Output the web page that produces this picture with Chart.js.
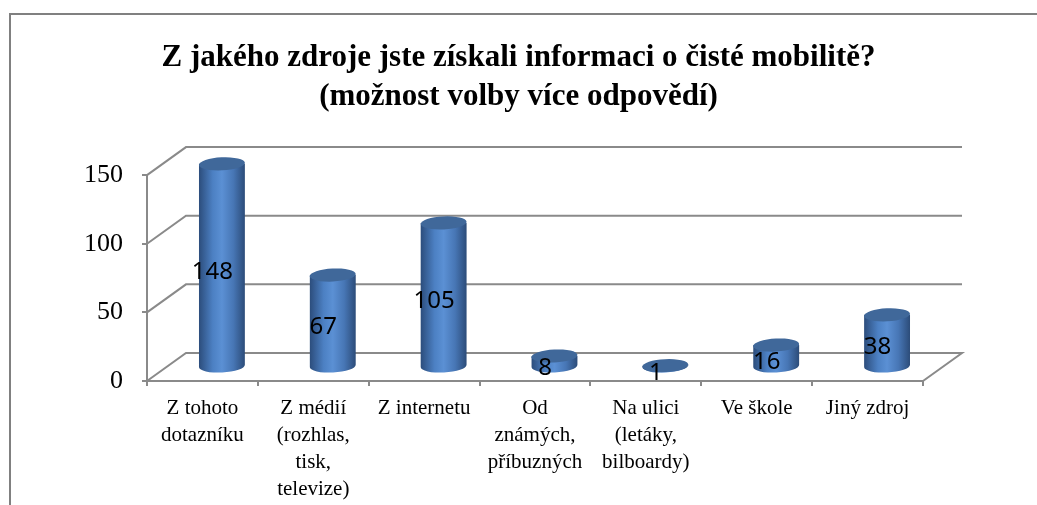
<!DOCTYPE html>
<html>
<head>
<meta charset="utf-8">
<script src="https://cdn.jsdelivr.net/npm/chart.js@4.4.0/dist/chart.umd.min.js"></script>
<style>
  html, body { margin: 0; padding: 0; background: #fff; }
  #wrap { position: relative; width: 1037px; height: 505px; }
</style>
</head>
<body>
<div id="wrap"><canvas id="graf" width="1037" height="505"></canvas></div>
<script>
// data
var kategorie = [
  ['Z tohoto', 'dotazníku'],
  ['Z médií', '(rozhlas,', 'tisk,', 'televize)'],
  'Z internetu',
  ['Od', 'známých,', 'příbuzných'],
  ['Na ulici', '(letáky,', 'bilboardy)'],
  'Ve škole',
  'Jiný zdroj'
];
var pocty = [148, 67, 105, 8, 1, 16, 38];
var osaY = [0, 50, 100, 150];
var nadpis = ['Z jakého zdroje jste získali informaci o čisté mobilitě?', '(možnost volby více odpovědí)'];

// 3d look, excel style
var HLOUBKA_X = 39, HLOUBKA_Y = -28;
var SEDA = '#8a8a8a';
var SERIF = '"Liberation Serif", "Times New Roman", serif';

var ramecek = {
  id: 'ramecek',
  beforeDraw: function(chart) {
    var ctx = chart.ctx;
    ctx.save();
    ctx.fillStyle = '#fff';
    ctx.fillRect(0, 0, chart.width, chart.height);
    ctx.strokeStyle = '#808080';
    ctx.lineWidth = 2;
    ctx.beginPath();
    ctx.moveTo(10, chart.height);
    ctx.lineTo(10, 14);
    ctx.lineTo(chart.width, 14);
    ctx.stroke();
    ctx.restore();
  }
};

var steny = {
  id: 'steny',
  beforeDatasetsDraw: function(chart) {
    var ctx = chart.ctx, a = chart.chartArea, y = chart.scales.y;
    ctx.save();
    ctx.strokeStyle = SEDA;
    ctx.lineWidth = 2;
    osaY.forEach(function(v) {
      var py = y.getPixelForValue(v);
      ctx.beginPath();
      ctx.moveTo(a.left, py);
      ctx.lineTo(a.left + HLOUBKA_X, py + HLOUBKA_Y);
      ctx.lineTo(a.right + HLOUBKA_X, py + HLOUBKA_Y);
      if (v === 0) ctx.lineTo(a.right, py);
      ctx.stroke();
    });
    ctx.restore();
  },
  afterDatasetsDraw: function(chart) {
    var ctx = chart.ctx;
    var meta = chart.getDatasetMeta(0);
    ctx.save();
    meta.data.forEach(function(bar, i) {
      var cx = bar.x + HLOUBKA_X / 2;
      var top = bar.y + HLOUBKA_Y / 2;
      var bottom = bar.base + HLOUBKA_Y / 2;
      var rx = bar.width / 2, ry = 6.5, rot = -0.05;

      var g = ctx.createLinearGradient(cx - rx, 0, cx + rx, 0);
      g.addColorStop(0, '#2c4d7c');
      g.addColorStop(0.3, '#4c80c3');
      g.addColorStop(0.5, '#5b90d4');
      g.addColorStop(0.75, '#4776b5');
      g.addColorStop(1, '#2c4c79');

      ctx.fillStyle = g;
      ctx.beginPath();
      ctx.moveTo(cx - rx, top);
      ctx.lineTo(cx - rx, bottom);
      ctx.ellipse(cx, bottom, rx, ry, rot, Math.PI, 0, true);
      ctx.lineTo(cx + rx, top);
      ctx.closePath();
      ctx.fill();

      ctx.fillStyle = '#40689a';
      ctx.beginPath();
      ctx.ellipse(cx, top, rx, ry, rot, 0, Math.PI * 2);
      ctx.fill();

      // popisek hodnoty
      ctx.fillStyle = '#000';
      ctx.font = '24px "Noto Sans"';
      ctx.textAlign = 'center';
      ctx.textBaseline = 'middle';
      ctx.fillText(String(pocty[i]), bar.x + 10, (bar.y + bar.base) / 2 - 7);
    });
    ctx.restore();
  }
};

new Chart(document.getElementById('graf'), {
  type: 'bar',
  data: {
    labels: kategorie,
    datasets: [{
      data: pocty,
      backgroundColor: 'rgba(0,0,0,0)',
      borderWidth: 0,
      categoryPercentage: 1,
      barPercentage: 0.414
    }]
  },
  options: {
    responsive: false,
    animation: false,
    devicePixelRatio: 1,
    layout: { padding: 0 },
    plugins: {
      legend: { display: false },
      tooltip: { enabled: false },
      title: {
        display: true,
        text: nadpis,
        color: '#000',
        font: { family: SERIF, size: 31, weight: 'bold', lineHeight: 1.26 },
        padding: { top: 38, bottom: 59 }
      }
    },
    scales: {
      x: {
        grid: { drawOnChartArea: false, color: SEDA, lineWidth: 2, tickLength: 5 },
        border: { color: SEDA, width: 2 },
        ticks: {
          color: '#000',
          padding: 9,
          maxRotation: 0,
          autoSkip: false,
          font: { family: SERIF, size: 21, lineHeight: 1.28 }
        },
        afterFit: function(s) { s.height = 124; }
      },
      y: {
        min: 0,
        max: 150,
        grid: { drawOnChartArea: false, color: SEDA, lineWidth: 2, tickLength: 5 },
        border: { color: SEDA, width: 2 },
        ticks: {
          stepSize: 50,
          color: '#000',
          padding: 19,
          font: { family: SERIF, size: 26 }
        },
        afterFit: function(s) { s.width = 147; }
      },
      // empty right axis, only keeps space for the 3d depth so the title stays centred
      prazdna: {
        position: 'right',
        min: 0,
        max: 1,
        grid: { display: false },
        border: { display: false },
        ticks: { display: false },
        afterFit: function(s) { s.width = 114; }
      }
    }
  },
  plugins: [ramecek, steny]
});
</script>
</body>
</html>
